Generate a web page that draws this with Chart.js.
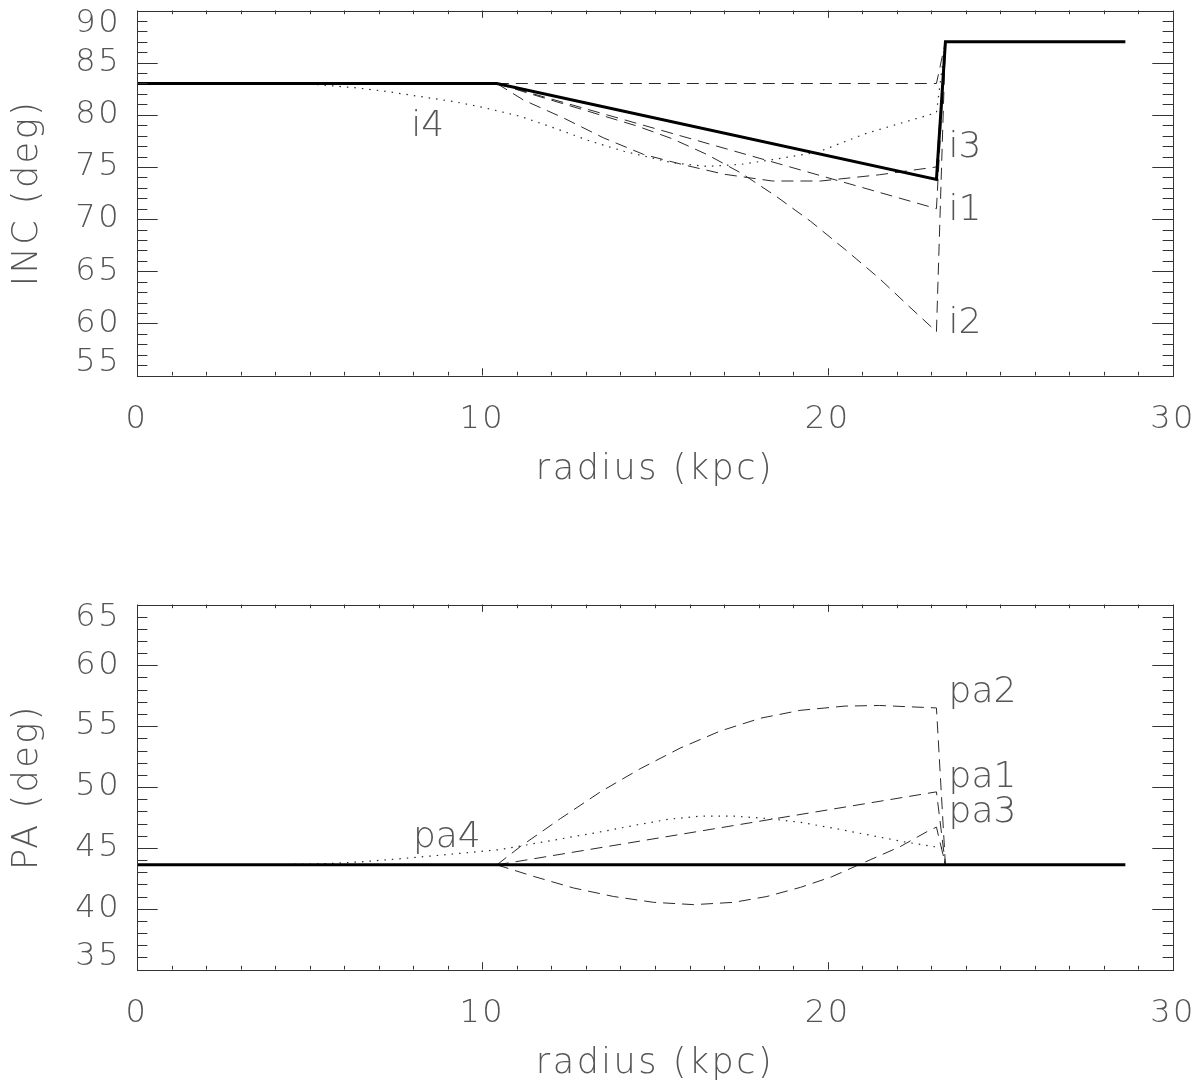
<!DOCTYPE html>
<html><head><meta charset="utf-8">
<script src="https://cdn.jsdelivr.net/npm/chart.js@4.4.1/dist/chart.umd.min.js"></script>
<style>
html,body{margin:0;padding:0;background:#fff;width:1200px;height:1091px;overflow:hidden}
.wrap{position:absolute;left:0;width:1200px;height:497px}
canvas{display:block}
</style></head><body>
<div class="wrap" style="top:0"><canvas id="inc" width="1200" height="497"></canvas></div>
<div class="wrap" style="top:594px"><canvas id="pa" width="1200" height="497"></canvas></div>
<script>
// ---------- data: inclination panel ----------
const incModelR = [0, 10.42, 23.15, 23.41, 28.62];
const incModel  = [83.0, 83.0, 73.8, 87.0, 87.0];
const incFlatR  = [10.42, 23.15, 23.41];
const incFlat   = [83.0, 83.0, 87.0];
const i1R = [10.42, 23.15, 23.41];
const i1  = [83.0, 71.0, 87.0];
const i2R = [10.42, 11.5, 12.5, 13.5, 14.5, 15.5, 16.5, 17.5, 18.5, 19.5, 20.5, 21.5, 22.3, 23.15, 23.41];
const i2  = [83.0, 81.9, 80.9, 79.9, 78.9, 77.7, 76.2, 74.4, 72.2, 69.8, 67.1, 64.3, 61.8, 59.2, 87.0];
const i3R = [10.42, 11.2, 12.35, 13.5, 14.67, 15.83, 17.0, 18.4, 19.8, 21.5, 23.15, 23.41];
const i3  = [83.0, 81.4, 79.7, 77.8, 76.2, 75.2, 74.3, 73.65, 73.65, 74.25, 75.0, 87.0];
const i4R = [0, 4.0, 5.2, 6.3, 7.2, 8.2, 9.2, 10.1, 11.1, 12.2, 13.1, 14.1, 15.5, 16.5, 17.5, 18.4, 19.7, 21.1, 23.15, 23.41];
const i4  = [83.0, 83.0, 82.9, 82.6, 82.25, 81.75, 81.25, 80.65, 79.85, 78.6, 77.5, 76.5, 75.4, 75.05, 75.25, 75.7, 76.4, 78.2, 80.2, 87.0];
const incLabelText = ['i4', 'i3', 'i1', 'i2'];
const incLabelR    = [7.94, 23.5, 23.5, 23.5];
const incLabelV    = [78.0, 76.0, 69.95, 59.05];

// ---------- data: position angle panel ----------
const paModelR = [0, 28.62];
const paModel  = [43.6, 43.6];
const pa1R = [10.42, 23.15, 23.41];
const pa1  = [43.6, 49.6, 43.6];
const pa2R = [10.42, 11.1, 12.26, 13.42, 14.57, 15.73, 16.89, 18.05, 19.2, 20.5, 21.5, 22.3, 23.15, 23.41];
const pa2  = [43.6, 45.1, 47.4, 49.6, 51.5, 53.2, 54.6, 55.65, 56.3, 56.65, 56.7, 56.6, 56.5, 43.6];
const pa3R = [10.42, 11.49, 12.64, 13.8, 14.96, 16.12, 17.28, 18.24, 19.21, 20.1, 20.9, 22.1, 22.92, 23.15, 23.41];
const pa3  = [43.6, 42.65, 41.7, 41.0, 40.52, 40.33, 40.52, 41.0, 41.75, 42.6, 43.6, 45.1, 46.4, 46.7, 43.6];
const pa4R = [0, 4.0, 5.5, 6.5, 7.6, 9.0, 10.5, 12.0, 13.4, 14.5, 15.4, 16.3, 17.3, 18.3, 19.2, 20.2, 21.2, 22.2, 23.3, 23.41];
const pa4  = [43.6, 43.6, 43.7, 43.85, 44.1, 44.45, 44.85, 45.6, 46.3, 46.9, 47.35, 47.6, 47.6, 47.4, 47.1, 46.6, 46.05, 45.5, 45.0, 43.6];
const paLabelText = ['pa4', 'pa2', 'pa1', 'pa3'];
const paLabelR    = [7.99, 23.5, 23.5, 23.5];
const paLabelV    = [45.1, 57.0, 50.0, 47.15];

// ---------- axis ticks ----------
const xTickStep = 10, xMinorStep = 1;
const yTickStep = 5,  yMinorStep = 1;

// ---------- styling ----------
const FF = '"DejaVu Sans", "Liberation Sans", sans-serif';
const TXT = '#555';
const AX = '#333';
const pts = (xs, ys) => xs.map((x, i) => ({x: x, y: ys[i]}));
const solid  = (xs, ys) => ({data: pts(xs, ys), borderColor: '#000', borderWidth: 3, pointRadius: 0, fill: false, tension: 0});
const dashed = (xs, ys) => ({data: pts(xs, ys), borderColor: '#2a2a2a', borderWidth: 1, borderDash: [12, 7], pointRadius: 0, fill: false, tension: 0});
const dotted = (xs, ys) => ({data: pts(xs, ys), borderColor: '#2a2a2a', borderWidth: 1.2, borderDash: [1.5, 6], pointRadius: 0, fill: false, tension: 0});

const idlPlugin = {
  id: 'idl',
  beforeDraw(chart, args, opts) {
    const ctx = chart.ctx;
    ctx.letterSpacing = '2.5px';
    const ys = chart.scales.y;
    const items = ys.getLabelItems(chart.chartArea);
    if (items.length) {
      items[0].options.translation[1] -= opts.edgeShift;
      items[items.length - 1].options.translation[1] += opts.edgeShift;
    }
  },
  afterDraw(chart, args, opts) {
    const {ctx, chartArea: a, scales: {x, y}} = chart;
    ctx.save();
    ctx.letterSpacing = '0px';
    ctx.strokeStyle = AX;
    ctx.lineWidth = 1;
    ctx.beginPath();
    for (let v = y.min; v <= y.max + 1e-9; v += yMinorStep) {
      const py = Math.round(y.getPixelForValue(v)) + 0.5;
      const major = Math.abs(Math.round(v / yTickStep) * yTickStep - v) < 1e-6;
      const L = major ? 20.7 : 10.4;
      ctx.moveTo(a.left, py); ctx.lineTo(a.left + L, py);
      ctx.moveTo(a.right, py); ctx.lineTo(a.right - L, py);
    }
    for (let v = x.min; v <= x.max + 1e-9; v += xMinorStep) {
      const px = Math.round(x.getPixelForValue(v)) + 0.5;
      const major = Math.abs(Math.round(v / xTickStep) * xTickStep - v) < 1e-6;
      const L = major ? 7.3 : 3.7;
      ctx.moveTo(px, a.bottom); ctx.lineTo(px, a.bottom - L);
      ctx.moveTo(px, a.top); ctx.lineTo(px, a.top + L);
    }
    ctx.stroke();
    ctx.strokeRect(Math.round(a.left) + 0.5, Math.round(a.top) + 0.5, Math.round(a.right - a.left), Math.round(a.bottom - a.top));
    // curve labels
    ctx.fillStyle = TXT;
    ctx.font = '200 36px ' + FF;
    ctx.textAlign = 'left';
    ctx.textBaseline = 'alphabetic';
    opts.text.forEach((t, i) => {
      ctx.fillText(t, x.getPixelForValue(opts.r[i]), y.getPixelForValue(opts.v[i]));
    });
    ctx.restore();
  }
};

function makeChart(id, datasets, yMin, yMax, yTitle, labels) {
  const tickFont = {family: FF, size: 32, weight: 200};
  const titleFont = {family: FF, size: 35, weight: 200};
  return new Chart(document.getElementById(id), {
    type: 'line',
    data: {datasets: datasets},
    plugins: [idlPlugin],
    options: {
      responsive: false,
      devicePixelRatio: 1,
      animation: false,
      layout: {padding: {left: 0, top: 10.5, right: 27, bottom: 0}},
      plugins: {
        legend: {display: false},
        tooltip: {enabled: false},
        idl: {edgeShift: 13, text: labels[0], r: labels[1], v: labels[2]}
      },
      scales: {
        x: {
          type: 'linear', min: 0, max: 30, position: 'bottom',
          ticks: {stepSize: xTickStep, color: TXT, font: tickFont, padding: 25, maxRotation: 0, autoSkip: false},
          grid: {display: false, drawTicks: false},
          border: {display: false},
          title: {display: true, text: 'radius (kpc)', color: TXT, font: titleFont, padding: {top: 0, bottom: 6}},
          afterFit(s) { s.height = 121.5; s.paddingLeft = 0; s.paddingRight = 0; }
        },
        y: {
          type: 'linear', min: yMin, max: yMax, position: 'left',
          ticks: {stepSize: yTickStep, color: TXT, font: tickFont, padding: 16},
          grid: {display: false, drawTicks: false},
          border: {display: false},
          title: {display: true, text: yTitle, color: TXT, font: titleFont, padding: {top: 7, bottom: 0}},
          afterFit(s) { s.width = 137; s.paddingTop = 0; s.paddingBottom = 0; }
        }
      }
    }
  });
}

makeChart('inc', [
  solid(incModelR, incModel),
  dashed(incFlatR, incFlat),
  dashed(i1R, i1),
  dashed(i2R, i2),
  dashed(i3R, i3),
  dotted(i4R, i4)
], 55, 90, 'INC (deg)', [incLabelText, incLabelR, incLabelV]);

makeChart('pa', [
  solid(paModelR, paModel),
  dashed(pa1R, pa1),
  dashed(pa2R, pa2),
  dashed(pa3R, pa3),
  dotted(pa4R, pa4)
], 35, 65, 'PA (deg)', [paLabelText, paLabelR, paLabelV]);
</script>
</body></html>
